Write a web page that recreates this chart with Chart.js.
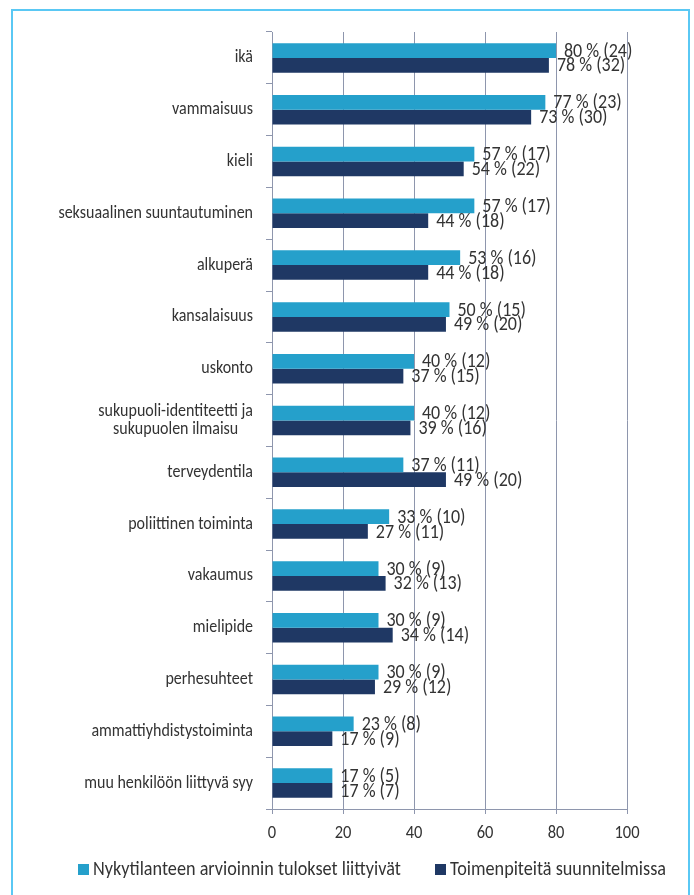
<!DOCTYPE html>
<html>
<head>
<meta charset="utf-8">
<script src="https://cdn.jsdelivr.net/npm/chart.js@4"></script>
<style>
  html, body { margin: 0; padding: 0; background: #fff; }
  #wrap { position: relative; width: 694px; height: 895px; overflow: hidden; }
  #frame {
    position: absolute; left: 11px; top: 9px; width: 679px; height: 920px;
    border: 2px solid #5ac8f4; box-sizing: border-box;
  }
  canvas { position: absolute; left: 0; top: 0; }
</style>
</head>
<body>
<div id="wrap">
  <div id="frame"></div>
  <canvas id="chart" width="694" height="895"></canvas>
</div>
<script>
const categories = [
    'ikä',
    'vammaisuus',
    'kieli',
    'seksuaalinen suuntautuminen',
    'alkuperä',
    'kansalaisuus',
    'uskonto',
    ['sukupuoli-identiteetti ja', 'sukupuolen ilmaisu'],
    'terveydentila',
    'poliittinen toiminta',
    'vakaumus',
    'mielipide',
    'perhesuhteet',
    'ammattiyhdistystoiminta',
    'muu henkilöön liittyvä syy'
];

// percentages and the counts shown in brackets
const assessPct = [80, 77, 57, 57, 53, 50, 40, 40, 37, 33, 30, 30, 30, 23, 17];
const assessCount = [24, 23, 17, 17, 16, 15, 12, 12, 11, 10, 9, 9, 9, 8, 5];
const planPct = [78, 73, 54, 44, 44, 49, 37, 39, 49, 27, 32, 34, 29, 17, 17];
const planCount = [32, 30, 22, 18, 18, 20, 15, 16, 20, 11, 13, 14, 12, 9, 7];

const xTicks = [0, 20, 40, 60, 80, 100];
const seriesNames = ['Nykytilanteen arvioinnin tulokset liittyivät', 'Toimenpiteitä suunnitelmissa'];
const seriesColors = ['#25a0cb', '#1f3864'];

const FONT = 'Carlito, Lato, sans-serif';
const TEXT = '#333333';
const GRID = '#8e96ad';

// text is drawn a little taller than wide
function drawText(ctx, str, x, y, size, align) {
    ctx.save();
    ctx.translate(x, y);
    ctx.scale(1, 1.12);
    ctx.font = size + 'px ' + FONT;
    ctx.textAlign = align;
    ctx.textBaseline = 'middle';
    ctx.fillText(str, 0, 0);
    ctx.restore();
}

// value labels at the end of each bar, e.g. "80 % (24)"
const barLabels = {
    id: 'barLabels',
    afterDatasetsDraw(chart) {
        const ctx = chart.ctx;
        const counts = [assessCount, planCount];
        ctx.fillStyle = TEXT;
        chart.data.datasets.forEach((ds, di) => {
            chart.getDatasetMeta(di).data.forEach((bar, i) => {
                drawText(ctx, ds.data[i] + ' % (' + counts[di][i] + ')', bar.x + 8, bar.y + 1, 18, 'left');
            });
        });
    }
};

// category names, multi-line ones centred on each other
const categoryLabels = {
    id: 'categoryLabels',
    afterDraw(chart) {
        const ctx = chart.ctx;
        const y = chart.scales.y;
        const right = y.right - 19;
        ctx.save();
        ctx.font = '16px ' + FONT;
        ctx.fillStyle = TEXT;
        chart.data.labels.forEach((lab, i) => {
            const lines = Array.isArray(lab) ? lab : [lab];
            const cy = y.getPixelForValue(i);
            const lh = 17.5;
            const w = Math.max(...lines.map(l => ctx.measureText(l).width));
            lines.forEach((l, k) => {
                drawText(ctx, l, right - w / 2, cy + (k - (lines.length - 1) / 2) * lh, 16, 'center');
            });
        });
        ctx.restore();
    }
};

// x axis numbers
const xLabels = {
    id: 'xLabels',
    afterDraw(chart) {
        const ctx = chart.ctx;
        const x = chart.scales.x;
        ctx.fillStyle = TEXT;
        xTicks.forEach(v => drawText(ctx, String(v), x.getPixelForValue(v), 833, 16.5, 'center'));
    }
};

// legend row under the axis
const legendRow = {
    id: 'legendRow',
    afterDraw(chart) {
        const ctx = chart.ctx;
        const starts = [78, 435];
        starts.forEach((sx, i) => {
            ctx.fillStyle = seriesColors[i];
            ctx.fillRect(sx, 864, 11, 11);
            ctx.fillStyle = TEXT;
            drawText(ctx, seriesNames[i], sx + 15, 870, 18.2, 'left');
        });
    }
};

new Chart(document.getElementById('chart'), {
    type: 'bar',
    data: {
        labels: categories,
        datasets: [{
            label: seriesNames[0],
            data: assessPct,
            backgroundColor: seriesColors[0],
            categoryPercentage: 0.57,
            barPercentage: 1.0
        }, {
            label: seriesNames[1],
            data: planPct,
            backgroundColor: seriesColors[1],
            categoryPercentage: 0.57,
            barPercentage: 1.0
        }]
    },
    options: {
        indexAxis: 'y',
        responsive: false,
        animation: false,
        devicePixelRatio: 1,
        layout: { padding: { left: 12, top: 32, right: 67, bottom: 45 } },
        plugins: {
            legend: { display: false },
            tooltip: { enabled: false }
        },
        scales: {
            x: {
                min: 0,
                max: 100,
                afterBuildTicks(scale) {
                    scale.ticks = xTicks.map(v => ({ value: v }));
                },
                afterFit(scale) { scale.height = 41; },
                grid: { color: GRID, lineWidth: 1, tickLength: 5 },
                border: { color: GRID, width: 1 },
                ticks: { color: 'rgba(0,0,0,0)', font: { family: FONT, size: 15 } }
            },
            y: {
                afterFit(scale) { scale.width = 260; },
                grid: { drawOnChartArea: false, color: GRID, tickLength: 6, offset: true },
                border: { color: GRID, width: 1 },
                ticks: { color: 'rgba(0,0,0,0)', font: { family: FONT, size: 15 } }
            }
        }
    },
    plugins: [barLabels, categoryLabels, xLabels, legendRow]
});
</script>
</body>
</html>
